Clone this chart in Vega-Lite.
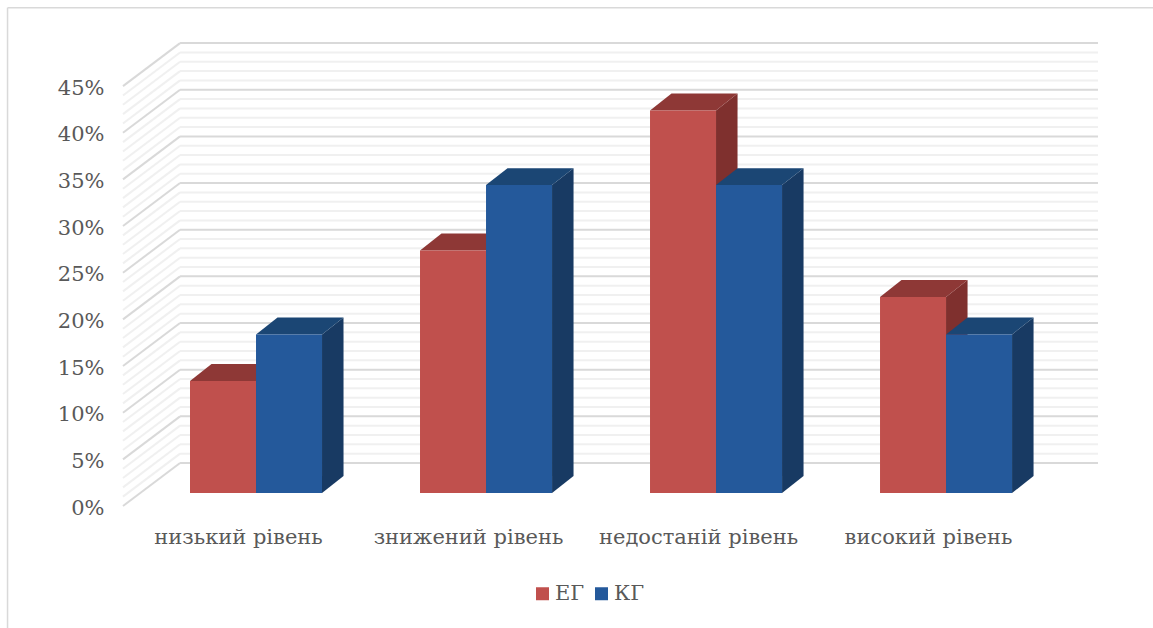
{
  "$schema": "https://vega.github.io/schema/vega-lite/v6.json",
  "autosize": "none",
  "width": 975,
  "height": 463,
  "padding": {"left": 123, "top": 43, "right": 55, "bottom": 122},
  "background": "#ffffff",
  "config": {
    "view": {"stroke": null},
    "font": "DejaVu Serif",
    "axis": {"labelFont": "DejaVu Serif", "labelColor": "#595959", "labelFontSize": 21, "labelLimit": 400, "domain": false, "ticks": false, "grid": false, "title": null}
  },
  "datasets": {
    "bars": [
      {"category": "низький рівень", "group": "ЕГ", "value": 12},
      {"category": "низький рівень", "group": "КГ", "value": 17},
      {"category": "знижений рівень", "group": "ЕГ", "value": 26},
      {"category": "знижений рівень", "group": "КГ", "value": 33},
      {"category": "недостаній рівень", "group": "ЕГ", "value": 41},
      {"category": "недостаній рівень", "group": "КГ", "value": 33},
      {"category": "високий рівень", "group": "ЕГ", "value": 21},
      {"category": "високий рівень", "group": "КГ", "value": 17}
    ],
    "levels": [
      {"level": 0}, {"level": 1}, {"level": 2}, {"level": 3}, {"level": 4}, {"level": 5},
      {"level": 6}, {"level": 7}, {"level": 8}, {"level": 9}, {"level": 10}, {"level": 11},
      {"level": 12}, {"level": 13}, {"level": 14}, {"level": 15}, {"level": 16}, {"level": 17},
      {"level": 18}, {"level": 19}, {"level": 20}, {"level": 21}, {"level": 22}, {"level": 23},
      {"level": 24}, {"level": 25}, {"level": 26}, {"level": 27}, {"level": 28}, {"level": 29},
      {"level": 30}, {"level": 31}, {"level": 32}, {"level": 33}, {"level": 34}, {"level": 35},
      {"level": 36}, {"level": 37}, {"level": 38}, {"level": 39}, {"level": 40}, {"level": 41},
      {"level": 42}, {"level": 43}, {"level": 44}, {"level": 45}
    ],
    "frame": [
      {"x": -0.502, "x2": -0.502, "y": 53.4, "y2": -13.2},
      {"x": -0.502, "x2": 4.48, "y": 53.4, "y2": 53.4}
    ]
  },
  "layer": [
    {
      "data": {"name": "frame"},
      "mark": {"type": "rule", "color": "#D9D9D9", "strokeWidth": 1.5, "clip": false},
      "encoding": {
        "x": {
          "field": "x",
          "type": "quantitative",
          "scale": {"domain": [0, 4.239], "nice": false, "zero": false},
          "axis": {
            "orient": "bottom",
            "values": [0.5, 1.5, 2.5, 3.5],
            "labelExpr": "['низький рівень', 'знижений рівень', 'недостаній рівень', 'високий рівень'][floor(datum.value)]",
            "labelPadding": 20,
            "labelOverlap": false,
            "labelBound": false,
            "labelFlush": false
          }
        },
        "x2": {"field": "x2"},
        "y": {
          "field": "y",
          "type": "quantitative",
          "scale": {"domain": [0, 49.62], "nice": false, "zero": false},
          "axis": {
            "orient": "left",
            "values": [0, 5, 10, 15, 20, 25, 30, 35, 40, 45],
            "labelExpr": "datum.value + '%'",
            "labelPadding": 19,
            "labelOffset": 2,
            "labelOverlap": false,
            "labelBound": false
          }
        },
        "y2": {"field": "y2"}
      }
    },
    {
      "data": {"name": "levels"},
      "transform": [
        {"calculate": "datum.level + 4.61", "as": "back"},
        {"calculate": "datum.level % 5 === 0", "as": "major"}
      ],
      "layer": [
        {
          "transform": [{"filter": "!datum.major"}],
          "layer": [
            {
              "mark": {"type": "rule", "color": "#F0F0F0", "strokeWidth": 2},
              "encoding": {
                "x": {"datum": 0, "type": "quantitative"},
                "x2": {"datum": 0.248},
                "y": {"field": "level", "type": "quantitative"},
                "y2": {"field": "back"}
              }
            },
            {
              "mark": {"type": "rule", "color": "#F0F0F0", "strokeWidth": 2},
              "encoding": {
                "x": {"datum": 0.248, "type": "quantitative"},
                "x2": {"datum": 4.239},
                "y": {"field": "back", "type": "quantitative"}
              }
            }
          ]
        },
        {
          "transform": [{"filter": "datum.major"}],
          "layer": [
            {
              "mark": {"type": "rule", "color": "#D9D9D9", "strokeWidth": 2},
              "encoding": {
                "x": {"datum": 0, "type": "quantitative"},
                "x2": {"datum": 0.248},
                "y": {"field": "level", "type": "quantitative"},
                "y2": {"field": "back"}
              }
            },
            {
              "mark": {"type": "rule", "color": "#D9D9D9", "strokeWidth": 2},
              "encoding": {
                "x": {"datum": 0.248, "type": "quantitative"},
                "x2": {"datum": 4.239},
                "y": {"field": "back", "type": "quantitative"}
              }
            }
          ]
        }
      ]
    },
    {
      "data": {"name": "bars"},
      "transform": [
        {"calculate": "indexof(['низький рівень', 'знижений рівень', 'недостаній рівень', 'високий рівень'], datum.category)", "as": "idx"},
        {"calculate": "datum.group === 'ЕГ' ? 0 : 1", "as": "g"},
        {"calculate": "datum.idx + 0.2913 + datum.g * 0.287", "as": "left"},
        {"calculate": "datum.left + 0.287", "as": "right"},
        {"calculate": "1.39", "as": "base"},
        {"calculate": "datum.base + datum.value", "as": "top"},
        {"calculate": "datum.category + datum.group", "as": "key"},
        {"calculate": "datum.group + ' бік'", "as": "sideFace"},
        {"calculate": "datum.group + ' верх'", "as": "topFace"},
        {"calculate": "[0, 1]", "as": "t"},
        {"flatten": ["t"]},
        {"calculate": "datum.right + datum.t * 0.0935", "as": "backRight"},
        {"calculate": "datum.left + datum.t * 0.0935", "as": "backLeft"},
        {"calculate": "datum.base + datum.t * 1.82", "as": "floorY"},
        {"calculate": "datum.top + datum.t * 1.82", "as": "roofY"}
      ],
      "layer": [
        {
          "mark": {"type": "area", "opacity": 1},
          "encoding": {
            "x": {"field": "backRight", "type": "quantitative"},
            "y": {"field": "floorY", "type": "quantitative"},
            "y2": {"field": "roofY"},
            "detail": {"field": "key"},
            "color": {"field": "sideFace", "type": "nominal"}
          }
        },
        {
          "mark": {"type": "area", "orient": "horizontal", "opacity": 1},
          "encoding": {
            "y": {"field": "roofY", "type": "quantitative"},
            "x": {"field": "backLeft", "type": "quantitative"},
            "x2": {"field": "backRight"},
            "detail": {"field": "key"},
            "color": {"field": "topFace", "type": "nominal"}
          }
        },
        {
          "transform": [{"filter": "datum.t === 0"}],
          "mark": {"type": "rect"},
          "encoding": {
            "x": {"field": "left", "type": "quantitative"},
            "x2": {"field": "right"},
            "y": {"field": "base", "type": "quantitative"},
            "y2": {"field": "top"},
            "color": {
              "field": "group",
              "type": "nominal",
              "scale": {
                "domain": ["ЕГ", "КГ", "ЕГ бік", "КГ бік", "ЕГ верх", "КГ верх"],
                "range": ["#C0504D", "#24599B", "#7F302E", "#183A63", "#8E3836", "#1B4674"]
              },
              "legend": {
                "values": ["ЕГ", "КГ"],
                "orient": "none",
                "legendX": 409,
                "legendY": 540,
                "direction": "horizontal",
                "title": null,
                "symbolType": "square",
                "symbolSize": 169,
                "symbolOpacity": 1,
                "labelFont": "DejaVu Serif",
                "labelFontSize": 21,
                "labelColor": "#595959",
                "labelOffset": 2,
                "columnPadding": 6
              }
            }
          }
        }
      ]
    }
  ]
}
